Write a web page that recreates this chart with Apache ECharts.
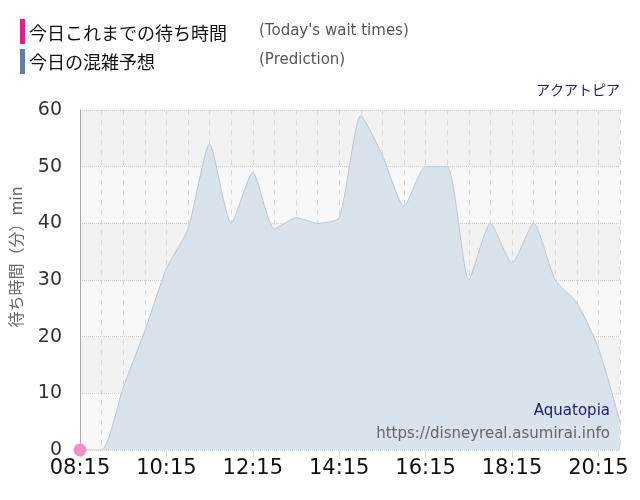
<!DOCTYPE html>
<html>
<head>
<meta charset="utf-8">
<script src="https://cdn.jsdelivr.net/npm/echarts@6/dist/echarts.min.js"></script>
<style>
  html, body { margin: 0; padding: 0; background: #fff; }
  #chart { width: 640px; height: 500px; }
</style>
</head>
<body>
<div id="chart"></div>
<script>
// 時刻（30分刻み）
const times = ['08:15', '08:45', '09:15', '09:45', '10:15', '10:45', '11:15', '11:45',
  '12:15', '12:45', '13:15', '13:45', '14:15', '14:45', '15:15', '15:45',
  '16:15', '16:45', '17:15', '17:45', '18:15', '18:45', '19:15', '19:45',
  '20:15', '20:45'];

// 今日の混雑予想
const prediction = [0, 0, 11, 21, 32, 39, 54, 40, 49, 39, 41, 40, 41, 59, 52, 43,
  50, 50, 30, 40, 33, 40, 30, 26, 18, 5];

// 今日これまでの待ち時間
const actual = [0];

const yTicks = [0, 10, 20, 30, 40, 50, 60];

const FONT = '"DejaVu Sans", "Noto Sans CJK JP", sans-serif';
const JP_FONT = '"Noto Sans CJK JP", "DejaVu Sans", sans-serif';

const chart = echarts.init(document.getElementById('chart'));

const option = {
  animation: false,
  backgroundColor: '#fff',
  title: {
    text: 'アクアトピア',
    right: 15,
    top: 78,
    textStyle: { fontFamily: JP_FONT, fontSize: 14, fontWeight: 'normal', color: '#1c1c6e' }
  },
  grid: { left: 80, right: 20, top: 110, bottom: 50, outerBoundsMode: 'none', containLabel: false },
  xAxis: {
    type: 'category',
    data: times,
    boundaryGap: false,
    axisLine: { show: false },
    axisTick: { show: true, interval: 3, length: 8, lineStyle: { color: '#ddd' } },
    axisLabel: {
      interval: 3,
      fontFamily: FONT,
      fontSize: 21,
      color: '#111',
      margin: 8
    },
    splitLine: {
      show: true,
      interval: 0,
      lineStyle: { color: '#d8d8d8', type: [5, 5], width: 1 }
    }
  },
  yAxis: {
    type: 'value',
    min: yTicks[0],
    max: yTicks[yTicks.length - 1],
    interval: 10,
    name: '待ち時間（分）min',
    nameLocation: 'middle',
    nameGap: 56,
    nameTextStyle: { fontFamily: JP_FONT, fontSize: 16, color: '#666', padding: [0, 0, 0, 46] },
    axisLine: { show: true, lineStyle: { color: '#aaa' } },
    axisTick: { show: false },
    axisLabel: { fontFamily: FONT, fontSize: 19, color: '#333', margin: 18 },
    splitLine: { lineStyle: { color: '#cfcfcf', type: 'dotted' } },
    splitArea: { show: true, areaStyle: { color: ['#f8f8f8', '#f2f2f2'] } }
  },
  graphic: [
    { type: 'rect', left: 20, top: 19, shape: { width: 5, height: 25 }, style: { fill: '#f0198e' } },
    { type: 'rect', left: 20, top: 49, shape: { width: 5, height: 25 }, style: { fill: '#5b80b0' } },
    { type: 'text', left: 29, top: 24, style: { text: '今日これまでの待ち時間', font: '18px ' + JP_FONT, fill: '#111' } },
    { type: 'text', left: 259, top: 24, style: { text: "(Today's wait times)", font: '15px ' + FONT, fill: '#555' } },
    { type: 'text', left: 29, top: 53, style: { text: '今日の混雑予想', font: '18px ' + JP_FONT, fill: '#111' } },
    { type: 'text', left: 259, top: 53, style: { text: '(Prediction)', font: '15px ' + FONT, fill: '#555' } },
    { type: 'text', right: 30, top: 404, z: 10, style: { text: 'Aquatopia', font: '15px ' + FONT, fill: '#1c1c6e', textAlign: 'right' } },
    { type: 'text', right: 30, top: 427, z: 10, style: { text: 'https://disneyreal.asumirai.info', font: '15px ' + FONT, fill: '#666', textAlign: 'right' } }
  ],
  series: [
    {
      name: '今日の混雑予想',
      type: 'line',
      data: prediction,
      smooth: 0.2,
      symbol: 'none',
      lineStyle: { color: '#b8c7d3', width: 1 },
      areaStyle: { color: '#d9e3eb', opacity: 1 },
      z: 2
    },
    {
      name: '今日これまでの待ち時間',
      type: 'line',
      data: actual,
      symbol: 'circle',
      symbolSize: 13,
      clip: false,
      itemStyle: { color: '#f48fc6' },
      lineStyle: { color: '#f0198e', width: 2 },
      z: 5
    }
  ]
};

chart.setOption(option);
</script>
</body>
</html>
